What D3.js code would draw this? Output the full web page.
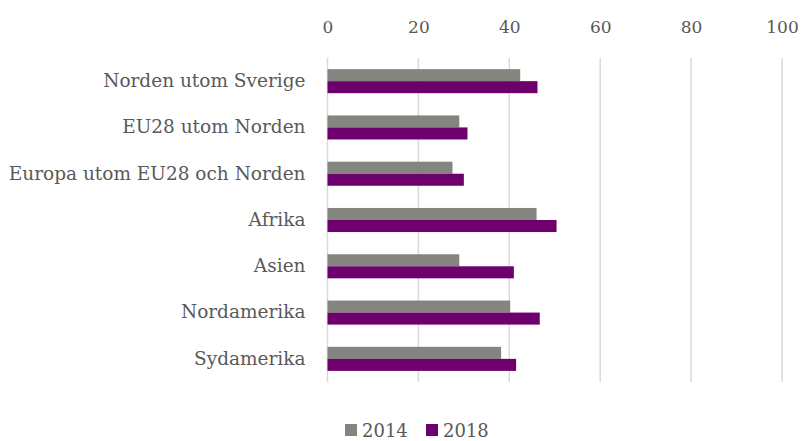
<!DOCTYPE html>
<html>
<head>
<meta charset="utf-8">
<script src="https://cdn.jsdelivr.net/npm/d3@7"></script>
<style>
  body { margin: 0; background: #fff; }
  text { font-family: "DejaVu Serif", serif; fill: #595959; }
</style>
</head>
<body>
<svg id="chart" width="807" height="441"></svg>
<script>
// chart data
var categories = ['Norden utom Sverige', 'EU28 utom Norden', 'Europa utom EU28 och Norden',
  'Afrika', 'Asien', 'Nordamerika', 'Sydamerika'];
var seriesNames = ['2014', '2018'];
var values2014 = [42.4, 29.0, 27.5, 46.0, 29.0, 40.2, 38.2];
var values2018 = [46.2, 30.8, 30.0, 50.4, 41.0, 46.7, 41.5];
var tickValues = [0, 20, 40, 60, 80, 100];
var colors = ['#858580', '#6e006e'];

var svg = d3.select('#chart');

var x = d3.scaleLinear().domain([0, 100]).range([327.5, 782]);
var y = d3.scaleBand().domain(categories).range([58, 382]).paddingInner(0.48).paddingOuter(0.24);
var sub = d3.scaleBand().domain(seriesNames).range([0, y.bandwidth()]);

// vertical gridlines
svg.append('g')
  .selectAll('line')
  .data(tickValues)
  .enter()
  .append('line')
  .attr('x1', function(d) { return x(d); })
  .attr('x2', function(d) { return x(d); })
  .attr('y1', 58)
  .attr('y2', 382)
  .attr('stroke', '#d9d9d9')
  .attr('stroke-width', 1.5);

// top axis labels
var xAxis = d3.axisTop(x).tickValues(tickValues).tickSize(0).tickPadding(0);
var gx = svg.append('g').attr('transform', 'translate(0,33)').call(xAxis);
gx.select('.domain').remove();
gx.selectAll('text').style('font-size', '17px').attr('fill', '#666').style('font-family', '"DejaVu Serif", serif');

// category labels
var yAxis = d3.axisLeft(y).tickSize(0).tickPadding(22);
var gy = svg.append('g').attr('transform', 'translate(327.5,0)').call(yAxis);
gy.select('.domain').remove();
gy.selectAll('text').style('font-size', '18.5px').attr('fill', '#595959').style('font-family', '"DejaVu Serif", serif');

// bars
var rows = categories.map(function(c, i) {
  return { cat: c, vals: [values2014[i], values2018[i]] };
});

var groups = svg.append('g')
  .selectAll('g')
  .data(rows)
  .enter()
  .append('g')
  .attr('transform', function(d) { return 'translate(0,' + y(d.cat) + ')'; });

groups.selectAll('rect')
  .data(function(d) { return d.vals.map(function(v, j) { return { s: seriesNames[j], v: v, j: j }; }); })
  .enter()
  .append('rect')
  .attr('x', x(0))
  .attr('y', function(d) { return sub(d.s); })
  .attr('width', function(d) { return x(d.v) - x(0); })
  .attr('height', sub.bandwidth())
  .attr('fill', function(d) { return colors[d.j]; });

// legend
var legendX = [345, 426];
var legend = svg.append('g')
  .selectAll('g')
  .data(seriesNames)
  .enter()
  .append('g')
  .attr('transform', function(d, i) { return 'translate(' + legendX[i] + ',424)'; });
legend.append('rect').attr('width', 12).attr('height', 12).attr('fill', function(d, i) { return colors[i]; });
legend.append('text').attr('x', 17).attr('y', 12.5).style('font-size', '18px').text(function(d) { return d; });
</script>
</body>
</html>
